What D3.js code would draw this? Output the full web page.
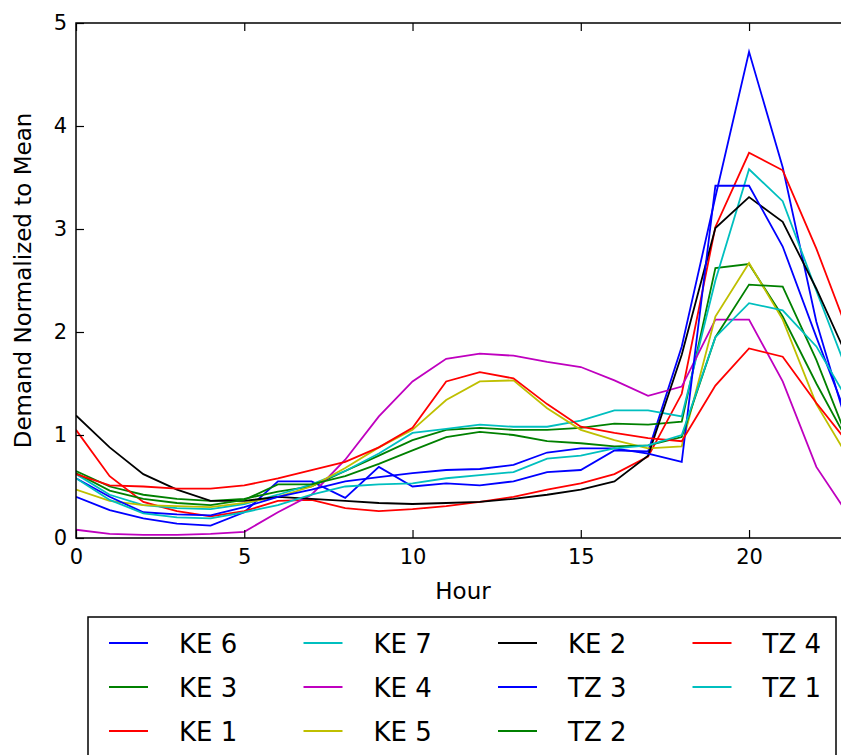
<!DOCTYPE html>
<html>
<head>
<meta charset="utf-8">
<script src="https://cdn.jsdelivr.net/npm/d3@7/dist/d3.min.js"></script>
<style>
  html, body { margin: 0; padding: 0; background: #ffffff; }
  svg { display: block; font-family: "DejaVu Sans", sans-serif; }
</style>
</head>
<body>
<svg id="chart" width="841" height="755"></svg>
<script>
// Hour of day (x axis)
const hours = [0, 1, 2, 3, 4, 5, 6, 7, 8, 9, 10, 11, 12, 13, 14, 15, 16, 17, 18, 19, 20, 21, 22, 23];

// Hourly demand normalized to the mean, one array per site
const ke6 = [0.40, 0.27, 0.19, 0.14, 0.12, 0.25, 0.55, 0.55, 0.39, 0.69, 0.50, 0.53, 0.51, 0.55, 0.64, 0.66, 0.85, 0.84, 1.86, 3.31, 4.72, 3.60, 2.10, 1.00];
const ke3 = [0.65, 0.50, 0.42, 0.38, 0.36, 0.38, 0.45, 0.50, 0.65, 0.80, 0.95, 1.05, 1.07, 1.05, 1.05, 1.07, 1.11, 1.10, 1.13, 2.62, 2.66, 2.15, 1.50, 0.90];
const ke1 = [1.05, 0.60, 0.35, 0.26, 0.21, 0.26, 0.36, 0.37, 0.29, 0.26, 0.28, 0.31, 0.35, 0.40, 0.47, 0.53, 0.62, 0.79, 1.40, 3.02, 3.74, 3.57, 2.81, 1.95];
const ke7 = [0.62, 0.42, 0.32, 0.29, 0.28, 0.33, 0.42, 0.52, 0.65, 0.82, 1.02, 1.06, 1.10, 1.08, 1.08, 1.14, 1.24, 1.24, 1.18, 2.50, 3.58, 3.27, 2.40, 1.55];
const ke4 = [0.08, 0.04, 0.03, 0.03, 0.04, 0.06, 0.25, 0.42, 0.76, 1.18, 1.52, 1.74, 1.79, 1.77, 1.71, 1.66, 1.53, 1.38, 1.47, 2.12, 2.12, 1.52, 0.69, 0.20];
const ke5 = [0.47, 0.36, 0.32, 0.31, 0.30, 0.34, 0.40, 0.50, 0.68, 0.88, 1.05, 1.34, 1.52, 1.53, 1.26, 1.05, 0.95, 0.87, 0.89, 2.15, 2.67, 2.12, 1.30, 0.75];
const ke2 = [1.19, 0.88, 0.62, 0.47, 0.36, 0.36, 0.40, 0.38, 0.36, 0.34, 0.33, 0.34, 0.35, 0.38, 0.42, 0.47, 0.55, 0.80, 1.78, 3.01, 3.31, 3.07, 2.42, 1.70];
const tz3 = [0.58, 0.40, 0.25, 0.23, 0.22, 0.30, 0.40, 0.47, 0.55, 0.59, 0.63, 0.66, 0.67, 0.71, 0.83, 0.87, 0.87, 0.82, 0.74, 3.42, 3.42, 2.83, 1.95, 1.10];
const tz2 = [0.63, 0.46, 0.38, 0.34, 0.32, 0.37, 0.52, 0.52, 0.60, 0.72, 0.85, 0.98, 1.03, 1.00, 0.94, 0.92, 0.89, 0.90, 0.98, 1.95, 2.46, 2.44, 1.73, 0.90];
const tz4 = [0.62, 0.51, 0.50, 0.48, 0.48, 0.51, 0.58, 0.66, 0.74, 0.88, 1.07, 1.52, 1.61, 1.55, 1.30, 1.08, 1.02, 0.97, 0.94, 1.48, 1.84, 1.76, 1.31, 0.90];
const tz1 = [0.58, 0.37, 0.24, 0.20, 0.19, 0.25, 0.32, 0.42, 0.50, 0.52, 0.53, 0.58, 0.61, 0.64, 0.77, 0.80, 0.87, 0.90, 1.00, 1.95, 2.28, 2.21, 1.86, 1.30];

// Series names, in plotting / legend order
const seriesNames = ["KE 6", "KE 3", "KE 1", "KE 7", "KE 4", "KE 5", "KE 2", "TZ 3", "TZ 2", "TZ 4", "TZ 1"];
const seriesValues = [ke6, ke3, ke1, ke7, ke4, ke5, ke2, tz3, tz2, tz4, tz1];
const seriesColors = ["#0000ff", "#008000", "#ff0000", "#00bfbf", "#bf00bf", "#bfbf00", "#000000",
                      "#0000ff", "#008000", "#ff0000", "#00bfbf"];

// Tick values
const xTicks = [0, 5, 10, 15, 20];
const yTicks = [0, 1, 2, 3, 4, 5];

const svg = d3.select("#chart");

const plot = { left: 76, right: 850, top: 23, bottom: 538 };

const x = d3.scaleLinear().domain([0, 23]).range([plot.left, plot.right]);
const y = d3.scaleLinear().domain([0, 5]).range([plot.bottom, plot.top]);

// Clip the series to the axes box
svg.append("defs").append("clipPath").attr("id", "plot-clip")
  .append("rect")
  .attr("x", plot.left).attr("y", plot.top)
  .attr("width", plot.right - plot.left).attr("height", plot.bottom - plot.top);

const line = d3.line()
  .x((d, i) => x(hours[i]))
  .y(d => y(d));

const lines = svg.append("g").attr("clip-path", "url(#plot-clip)");
seriesValues.forEach((vals, i) => {
  lines.append("path")
    .datum(vals)
    .attr("d", line)
    .attr("fill", "none")
    .attr("stroke", seriesColors[i])
    .attr("stroke-width", 1.8)
    .attr("stroke-linejoin", "miter")
    .attr("stroke-linecap", "butt");
});

// Axes with inward ticks on all four sides
const tickLen = 8;
function styleAxis(g) {
  g.select(".domain").remove();
  g.selectAll(".tick line").attr("stroke", "#000").attr("stroke-width", 1.2);
  g.selectAll(".tick text").attr("fill", "#000").style("font-size", "21px")
    .style("font-family", "'DejaVu Sans', sans-serif");
}

svg.append("g")
  .attr("transform", `translate(0,${plot.bottom})`)
  .call(d3.axisBottom(x).tickValues(xTicks).tickSize(-tickLen).tickPadding(11).tickFormat(d3.format("d")))
  .call(styleAxis);

svg.append("g")
  .attr("transform", `translate(0,${plot.top})`)
  .call(d3.axisTop(x).tickValues(xTicks).tickSize(-tickLen).tickFormat(""))
  .call(styleAxis);

svg.append("g")
  .attr("transform", `translate(${plot.left},0)`)
  .call(d3.axisLeft(y).tickValues(yTicks).tickSize(-tickLen).tickPadding(9).tickFormat(d3.format("d")))
  .call(styleAxis);

svg.append("g")
  .attr("transform", `translate(${plot.right},0)`)
  .call(d3.axisRight(y).tickValues(yTicks).tickSize(-tickLen).tickFormat(""))
  .call(styleAxis);

// Frame
svg.append("rect")
  .attr("x", plot.left).attr("y", plot.top)
  .attr("width", plot.right - plot.left).attr("height", plot.bottom - plot.top)
  .attr("fill", "none").attr("stroke", "#000").attr("stroke-width", 1.5);

// Axis titles
svg.append("text")
  .attr("x", (plot.left + plot.right) / 2).attr("y", 599)
  .attr("text-anchor", "middle")
  .style("font-size", "23px").attr("fill", "#000")
  .text("Hour");

svg.append("text")
  .attr("transform", `translate(31,${(plot.top + plot.bottom) / 2}) rotate(-90)`)
  .attr("text-anchor", "middle")
  .style("font-size", "23px").attr("fill", "#000")
  .text("Demand Normalized to Mean");

// Legend: 4 columns x 3 rows, filled column by column
const legend = svg.append("g");
legend.append("rect")
  .attr("x", 88).attr("y", 617)
  .attr("width", 748).attr("height", 145)
  .attr("fill", "#fff").attr("stroke", "#000").attr("stroke-width", 1.5);

const legRows = 3, colStep = 194.5, rowStep = 44;
seriesNames.forEach((name, i) => {
  const col = Math.floor(i / legRows), row = i % legRows;
  const lx = 109 + col * colStep, ly = 643 + row * rowStep;
  legend.append("line")
    .attr("x1", lx).attr("x2", lx + 39)
    .attr("y1", ly).attr("y2", ly)
    .attr("stroke", seriesColors[i]).attr("stroke-width", 1.8);
  legend.append("text")
    .attr("x", lx + 70).attr("y", ly + 9.5)
    .style("font-size", "26px").attr("fill", "#000")
    .text(name);
});
</script>
</body>
</html>
